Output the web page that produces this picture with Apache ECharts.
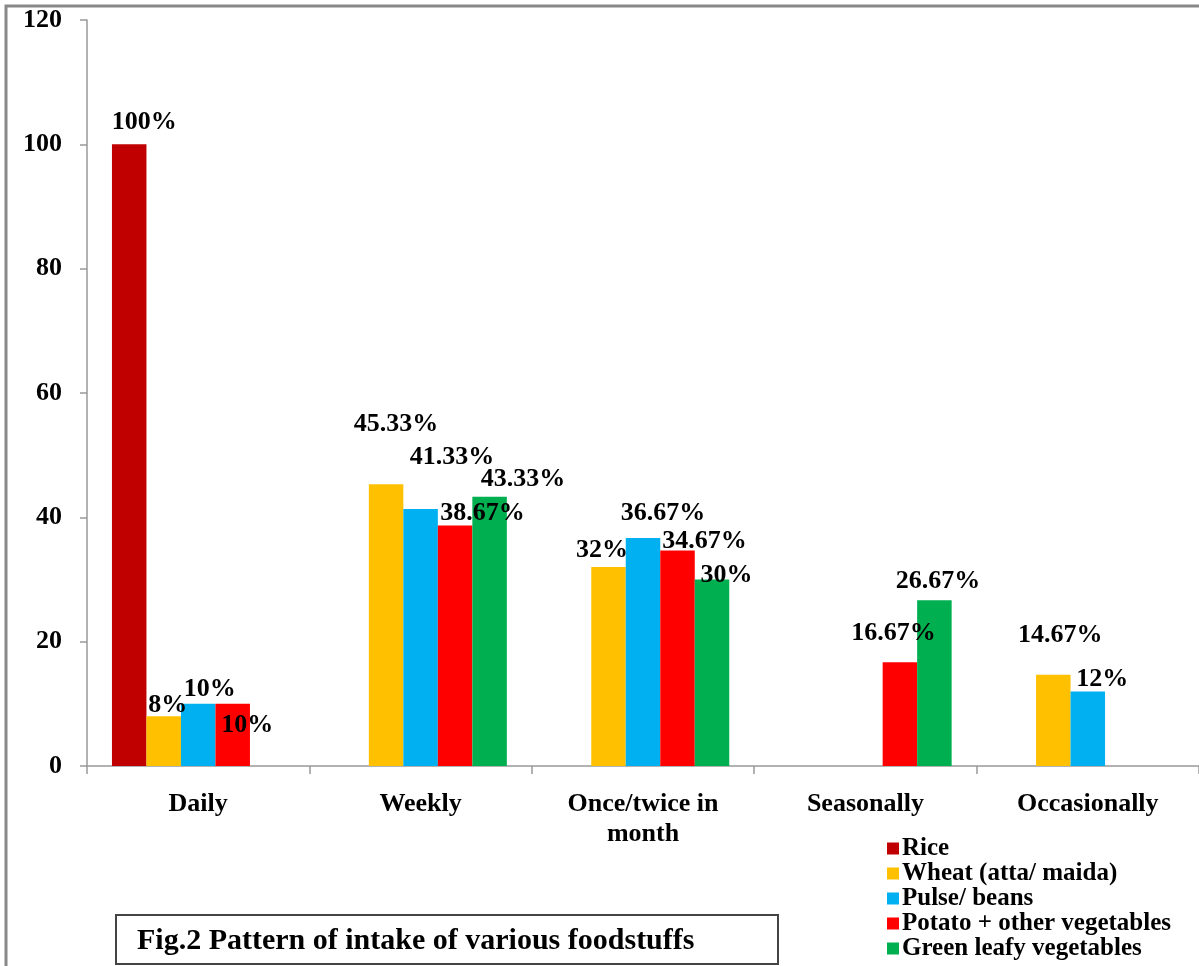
<!DOCTYPE html>
<html>
<head>
<meta charset="utf-8">
<script src="https://cdn.jsdelivr.net/npm/echarts@6/dist/echarts.min.js"></script>
<style>
html,body{margin:0;padding:0;background:#fff;}
#chart{width:1199px;height:966px;}
</style>
</head>
<body>
<div id="chart"></div>
<script>
// ---- data ----
const categories = ['Daily', 'Weekly', 'Once/twice in\nmonth', 'Seasonally', 'Occasionally'];
const seriesNames = ['Rice', 'Wheat (atta/ maida)', 'Pulse/ beans', 'Potato + other vegetables', 'Green leafy vegetables'];
const rice   = [100, null, null, null, null];
const wheat  = [8, 45.33, 32, null, 14.67];
const pulse  = [10, 41.33, 36.67, null, 12];
const potato = [10, 38.67, 34.67, 16.67, null];
const green  = [null, 43.33, 30, 26.67, null];
const yTicks = { min: 0, max: 120, interval: 20 };

// ---- style (not data) ----
const colors = ['#C00000', '#FFC000', '#00B0F0', '#FF0000', '#00B050'];
// hand-placed label offsets [dx, dy] relative to top of each bar, as in the reference
const labelOffsets = [
  [[15, -11.5], null, null, null, null],
  [[4, 0], [10, -48.7], [-6.5, -6.1], null, [7, -28.3]],
  [[11.5, -3.3], [31.5, -40.6], [20, -14], null, [14.5, -1.4]],
  [[14.5, 32.7], [27.5, -1.1], [27, 1.5], [-6.5, -17.9], null],
  [null, [33.5, -6.1], [14.5, 6.5], [3.5, -8.2], null]
];

const FONT = '"Liberation Serif", "Times New Roman", serif';
const allValues = [rice, wheat, pulse, potato, green];

const series = allValues.map((vals, si) => ({
  name: seriesNames[si],
  type: 'bar',
  barWidth: 34.5,
  barGap: '0%',
  itemStyle: { color: colors[si] },
  data: vals.map((v, ci) => {
    if (v === null) return null;
    const off = labelOffsets[si][ci] || [0, 0];
    return { value: v, label: { offset: off } };
  }),
  label: {
    show: true,
    position: 'top',
    distance: 0,
    fontFamily: FONT,
    fontWeight: 'bold',
    fontSize: 26,
    lineHeight: 22,
    color: '#000',
    formatter: p => p.value + '%'
  }
}));

const chart = echarts.init(document.getElementById('chart'), null, { renderer: 'canvas' });
chart.setOption({
  backgroundColor: '#fff',
  animation: false,
  grid: { left: 87, top: 20, width: 1115, height: 746, containLabel: false },
  legend: {
    orient: 'vertical',
    left: 887,
    top: 836,
    padding: 0,
    itemWidth: 12,
    itemHeight: 12,
    itemGap: 0,
    icon: 'rect',
    data: seriesNames,
    textStyle: { fontFamily: FONT, fontWeight: 'bold', fontSize: 25, lineHeight: 25, color: '#000', padding: [0, 0, 0, -2] }
  },
  xAxis: {
    type: 'category',
    data: categories,
    axisLine: { lineStyle: { color: '#999', width: 1.5 } },
    axisTick: { show: true, length: 8, lineStyle: { color: '#999', width: 1.5 } },
    axisLabel: { fontFamily: FONT, fontWeight: 'bold', fontSize: 26, lineHeight: 30, color: '#000', margin: 23, interval: 0 }
  },
  yAxis: {
    type: 'value',
    min: yTicks.min,
    max: yTicks.max,
    interval: yTicks.interval,
    splitLine: { show: false },
    axisLine: { show: true, lineStyle: { color: '#999', width: 1.5 } },
    axisTick: { show: true, length: 7, lineStyle: { color: '#999', width: 1.5 } },
    axisLabel: { fontFamily: FONT, fontWeight: 'bold', fontSize: 26, color: '#000', margin: 25 }
  },
  graphic: [
    { type: 'rect', shape: { x: 6, y: 6, width: 1300, height: 1100 }, style: { fill: 'none', stroke: '#888', lineWidth: 3 }, z: 100 },
    { type: 'rect', shape: { x: 116, y: 915, width: 662, height: 49 }, style: { fill: '#fff', stroke: '#444', lineWidth: 2 }, z: 100 },
    { type: 'text', x: 137, y: 941, style: { text: 'Fig.2 Pattern of intake of various foodstuffs', font: 'bold 30px ' + FONT, fill: '#000', verticalAlign: 'middle' }, z: 101 }
  ],
  series: series
});
</script>
</body>
</html>
